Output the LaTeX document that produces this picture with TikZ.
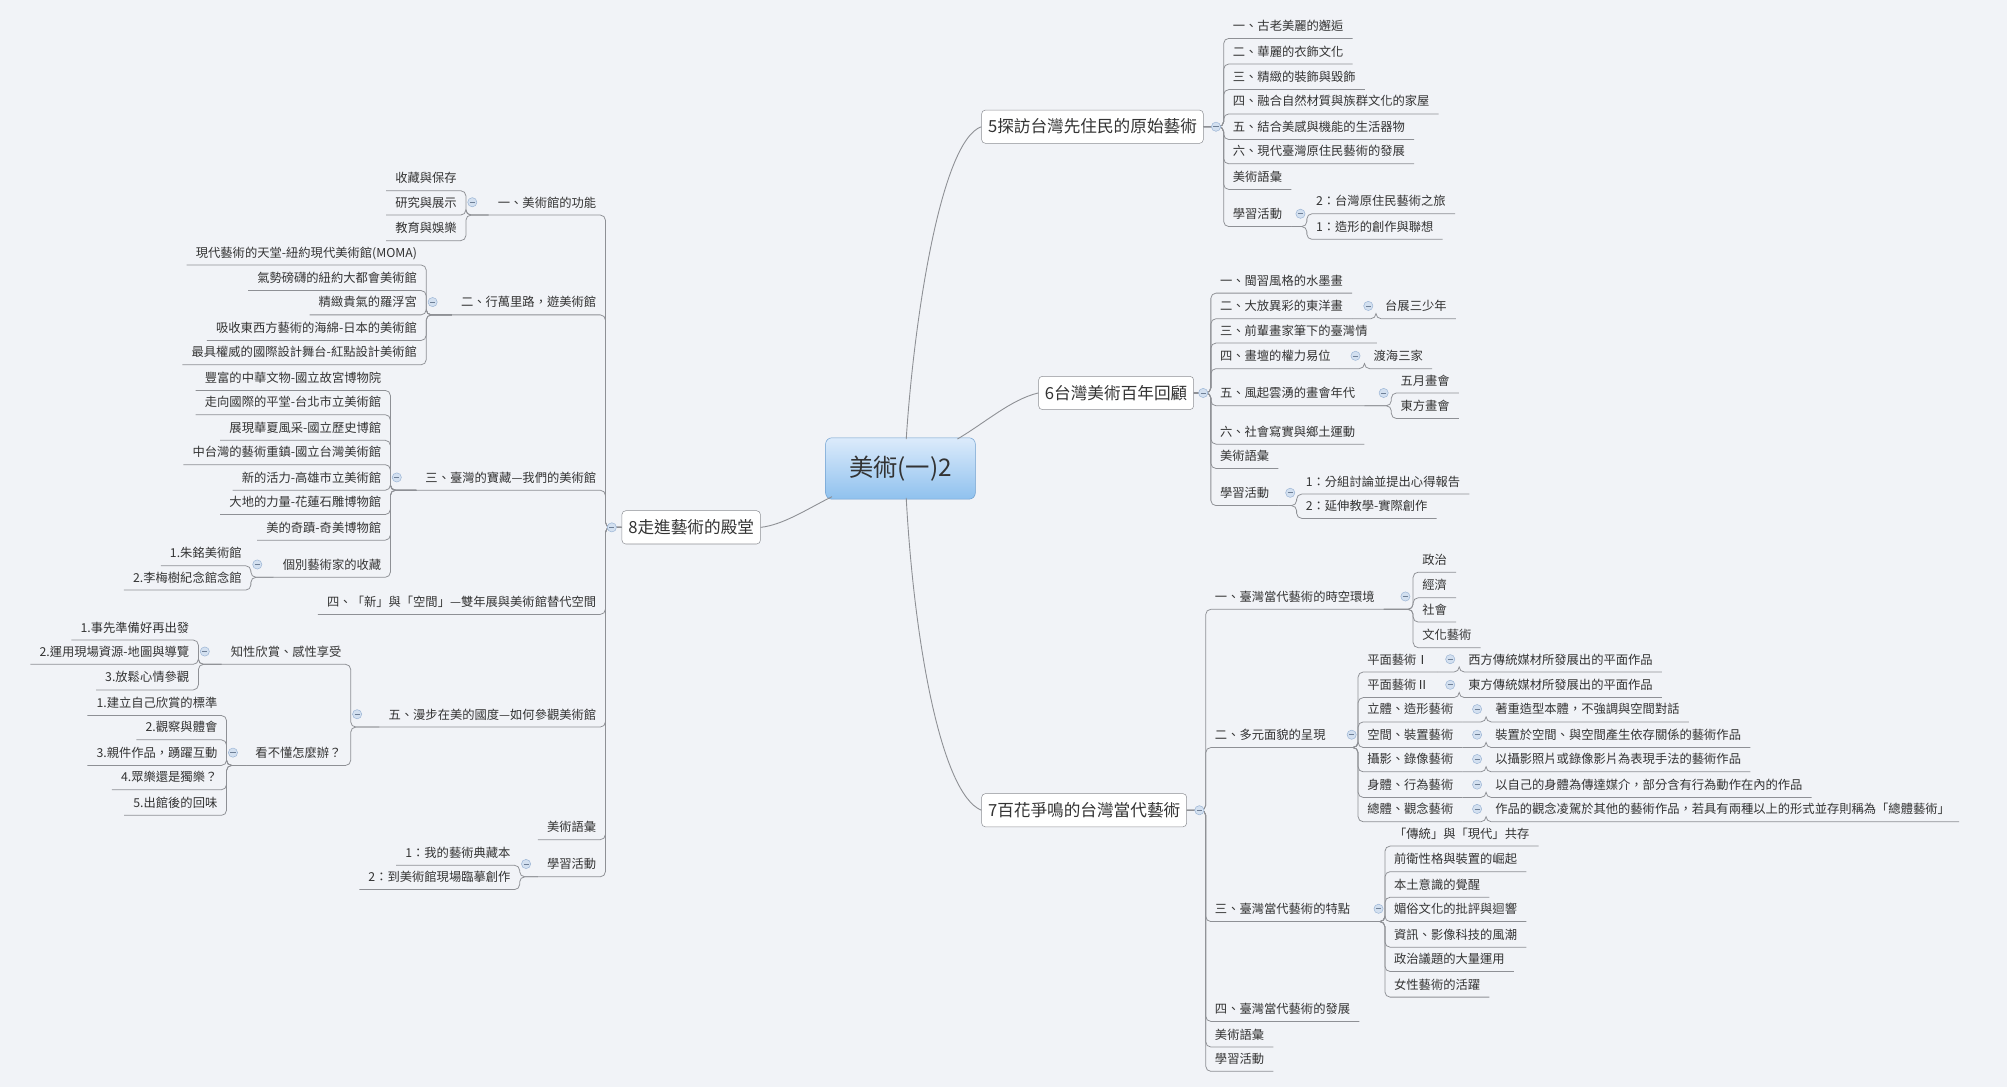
\documentclass[tikz,border=0pt]{standalone}
\usepackage{fontspec}
\setmainfont{Noto Sans CJK TC}
\definecolor{bg}{HTML}{F1F3F7}
\definecolor{ln}{HTML}{8E9095}
\definecolor{tx}{HTML}{333333}
\definecolor{ctop}{HTML}{DCEBFB}
\definecolor{cbot}{HTML}{8FC1EE}
\definecolor{cbd}{HTML}{6E9FCF}
\definecolor{icf}{HTML}{D3E0F0}
\definecolor{icd}{HTML}{9DB6D6}
\tikzset{
 leaf/.style={font=\fontsize{9.6}{10}\selectfont, text=tx, inner xsep=7pt, inner ysep=4pt, text height=8pt, text depth=2pt},
 conn/.style={draw=ln, line width=0.6pt, rounded corners=4pt},
 mainbox/.style={draw=ln, fill=white, rounded corners=3pt, font=\fontsize{13}{15}\selectfont, text=tx, inner xsep=5pt, minimum height=26pt},
 branch/.style={draw=ln, line width=0.7pt},
}
\newcommand\RR[4]{\node[leaf,anchor=south west] (#1) at (#2,#3+10) {#4};}
\newcommand\LL[4]{\node[leaf,anchor=south east] (#1) at (#2,#3+10) {#4};}
\newcommand\cR[2]{\draw[conn] (#1.south east) -- (#2.south west |- #1.south east) |- (#2.south east);}
\newcommand\cL[2]{\draw[conn] (#1.south west) -- (#2.south east |- #1.south west) |- (#2.south west);}
\newcommand\bR[2]{\draw[conn] (#1.east) -- (#2.south west |- #1.east) |- (#2.south east);}
\newcommand\bL[2]{\draw[conn] (#1.west) -- (#2.south east |- #1.west) |- (#2.south west);}
\newcommand\ic[2]{\draw[draw=icd, fill=icf, line width=0.4pt] (#1,#2) circle (3.6pt); \draw[draw=icd!70!black, line width=0.5pt] (#1-2,#2) -- (#1+2,#2);}
\begin{document}
\begin{tikzpicture}[x=1pt,y=-1pt]
\fill[bg] (0,0) rectangle (1568,849);
\useasboundingbox (0,0) rectangle (1568,849);
% center
\node[draw=cbd, rounded corners=5pt, top color=ctop, bottom color=cbot, minimum width=117pt, minimum height=48pt, font=\fontsize{19}{21}\selectfont, text=black!80] (c) at (703.5,366) {美術(一)2};
% main boxes
\node[mainbox] (b5) at (853.5,99) {5探訪台灣先住民的原始藝術};
\node[mainbox] (b6) at (872,307) {6台灣美術百年回顧};
\node[mainbox] (b7) at (847,633) {7百花爭鳴的台灣當代藝術};
\node[mainbox] (b8) at (540,412) {8走進藝術的殿堂};
\draw[branch] (708,343) .. controls (714,250) and (735,110) .. (b5.west);
\draw[branch] (748,343) .. controls (770,330) and (790,312) .. (b6.west);
\draw[branch] (708,389) .. controls (714,500) and (735,620) .. (b7.west);
\draw[branch] (650,388) .. controls (630,398) and (612,410) .. (b8.east);
% ===== branch 5
\RR{a1}{956}{20}{一、古老美麗的邂逅}
\RR{a2}{956}{40}{二、華麗的衣飾文化}
\RR{a3}{956}{60}{三、精緻的裝飾與毀飾}
\RR{a4}{956}{79}{四、融合自然材質與族群文化的家屋}
\RR{a5}{956}{99}{五、結合美感與機能的生活器物}
\RR{a6}{956}{118}{六、現代臺灣原住民藝術的發展}
\RR{a7}{956}{138}{美術語彙}
\RR{a8}{956}{167}{學習活動}
\RR{a81}{1021}{157}{2：台灣原住民藝術之旅}
\RR{a82}{1021}{177}{1：造形的創作與聯想}
\foreach \n in {a1,a2,a3,a4,a5,a6,a7,a8}{\bR{b5}{\n}}
\cR{a8}{a81}\cR{a8}{a82}
\ic{950}{99}\ic{1016}{167}
% ===== branch 6
\RR{d1}{946}{219}{一、閩習風格的水墨畫}
\RR{d2}{946}{239}{二、大放異彩的東洋畫}
\RR{d21}{1075}{239}{台展三少年}
\RR{d3}{946}{258}{三、前輩畫家筆下的臺灣情}
\RR{d4}{946}{278}{四、畫壇的權力易位}
\RR{d41}{1066}{278}{渡海三家}
\RR{d5}{946}{307}{五、風起雲湧的畫會年代}
\RR{d51}{1087}{297}{五月畫會}
\RR{d52}{1087}{317}{東方畫會}
\RR{d6}{946}{337}{六、社會寫實與鄉土運動}
\RR{d7}{946}{356}{美術語彙}
\RR{d8}{946}{385}{學習活動}
\RR{d81}{1013}{376}{1：分組討論並提出心得報告}
\RR{d82}{1013}{395}{2：延伸教學-實際創作}
\foreach \n in {d1,d2,d3,d4,d5,d6,d7,d8}{\bR{b6}{\n}}
\cR{d2}{d21}\cR{d4}{d41}\cR{d5}{d51}\cR{d5}{d52}\cR{d8}{d81}\cR{d8}{d82}
\ic{940}{307}\ic{1069}{239}\ic{1059}{278}\ic{1081}{307}\ic{1008}{385}
% ===== branch 7
\RR{e1}{942}{466}{一、臺灣當代藝術的時空環境}
\RR{e11}{1104}{437}{政治}
\RR{e12}{1104}{457}{經濟}
\RR{e13}{1104}{476}{社會}
\RR{e14}{1104}{496}{文化藝術}
\RR{e2}{942}{574}{二、多元面貌的呈現}
\RR{e21}{1061}{515}{平面藝術Ⅰ}
\RR{e22}{1061}{535}{平面藝術Ⅱ}
\RR{e23}{1061}{554}{立體、造形藝術}
\RR{e24}{1061}{574}{空間、裝置藝術}
\RR{e25}{1061}{593}{攝影、錄像藝術}
\RR{e26}{1061}{613}{身體、行為藝術}
\RR{e27}{1061}{632}{總體、觀念藝術}
\RR{f21}{1140}{515}{西方傳統媒材所發展出的平面作品}
\RR{f22}{1140}{535}{東方傳統媒材所發展出的平面作品}
\RR{f23}{1161}{554}{著重造型本體，不強調與空間對話}
\RR{f24}{1161}{574}{裝置於空間、與空間產生依存關係的藝術作品}
\RR{f25}{1161}{593}{以攝影照片或錄像影片為表現手法的藝術作品}
\RR{f26}{1161}{613}{以自己的身體為傳達媒介，部分含有行為動作在內的作品}
\RR{f27}{1161}{632}{作品的觀念凌駕於其他的藝術作品，若具有兩種以上的形式並存則稱為「總體藝術」}
\RR{e3}{942}{710}{三、臺灣當代藝術的特點}
\RR{e31}{1082}{651}{「傳統」與「現代」共存}
\RR{e32}{1082}{671}{前衛性格與裝置的崛起}
\RR{e33}{1082}{691}{本土意識的覺醒}
\RR{e34}{1082}{710}{媚俗文化的批評與迴響}
\RR{e35}{1082}{730}{資訊、影像科技的風潮}
\RR{e36}{1082}{749}{政治議題的大量運用}
\RR{e37}{1082}{769}{女性藝術的活躍}
\RR{e4}{942}{788}{四、臺灣當代藝術的發展}
\RR{e5}{942}{808}{美術語彙}
\RR{e6}{942}{827}{學習活動}
\foreach \n in {e1,e2,e3,e4,e5,e6}{\bR{b7}{\n}}
\foreach \n in {e11,e12,e13,e14}{\cR{e1}{\n}}
\foreach \n in {e21,e22,e23,e24,e25,e26,e27}{\cR{e2}{\n}}
\foreach \n in {e31,e32,e33,e34,e35,e36,e37}{\cR{e3}{\n}}
\cR{e21}{f21}\cR{e22}{f22}\cR{e23}{f23}\cR{e24}{f24}\cR{e25}{f25}\cR{e26}{f26}\cR{e27}{f27}
\ic{937}{633}\ic{1098}{466}\ic{1056}{574}\ic{1077}{710}
\ic{1133}{515}\ic{1133}{535}\ic{1154}{554}\ic{1154}{574}\ic{1154}{593}\ic{1154}{613}\ic{1154}{632}
% ===== branch 8
\LL{g1}{473}{158}{一、美術館的功能}
\LL{g11}{364}{139}{收藏與保存}
\LL{g12}{364}{158}{研究與展示}
\LL{g13}{364}{178}{教育與娛樂}
\LL{g2}{473}{236}{二、行萬里路，遊美術館}
\LL{g21}{333}{197}{現代藝術的天堂-紐約現代美術館(MOMA)}
\LL{g22}{333}{217}{氣勢磅礴的紐約大都會美術館}
\LL{g23}{333}{236}{精緻貴氣的羅浮宮}
\LL{g24}{333}{256}{吸收東西方藝術的海綿-日本的美術館}
\LL{g25}{333}{275}{最具權威的國際設計舞台-紅點設計美術館}
\LL{g3}{473}{373}{三、臺灣的寶藏—我們的美術館}
\LL{g31}{305}{295}{豐富的中華文物-國立故宮博物院}
\LL{g32}{305}{314}{走向國際的平堂-台北市立美術館}
\LL{g33}{305}{334}{展現華夏風采-國立歷史博館}
\LL{g34}{305}{353}{中台灣的藝術重鎮-國立台灣美術館}
\LL{g35}{305}{373}{新的活力-高雄市立美術館}
\LL{g36}{305}{392}{大地的力量-花蓮石雕博物館}
\LL{g37}{305}{412}{美的奇蹟-奇美博物館}
\LL{g38}{305}{441}{個別藝術家的收藏}
\LL{g381}{196}{432}{1.朱銘美術館}
\LL{g382}{196}{451}{2.李梅樹紀念館念館}
\LL{g4}{473}{470}{四、「新」與「空間」—雙年展與美術館替代空間}
\LL{g5}{473}{558}{五、漫步在美的國度—如何參觀美術館}
\LL{g51}{274}{509}{知性欣賞、感性享受}
\LL{g511}{155}{490}{1.事先準備好再出發}
\LL{g512}{155}{509}{2.運用現場資源-地圖與導覽}
\LL{g513}{155}{529}{3.放鬆心情參觀}
\LL{g52}{274}{588}{看不懂怎麼辦？}
\LL{g521}{177}{549}{1.建立自己欣賞的標準}
\LL{g522}{177}{568}{2.觀察與體會}
\LL{g523}{177}{588}{3.親件作品，踴躍互動}
\LL{g524}{177}{607}{4.眾樂還是獨樂？}
\LL{g525}{177}{627}{5.出館後的回味}
\LL{g6}{473}{646}{美術語彙}
\LL{g7}{473}{675}{學習活動}
\LL{g71}{406}{666}{1：我的藝術典藏本}
\LL{g72}{406}{685}{2：到美術館現場臨摹創作}
\foreach \n in {g1,g2,g3,g4,g5,g6,g7}{\bL{b8}{\n}}
\foreach \n in {g11,g12,g13}{\cL{g1}{\n}}
\foreach \n in {g21,g22,g23,g24,g25}{\cL{g2}{\n}}
\foreach \n in {g31,g32,g33,g34,g35,g36,g37,g38}{\cL{g3}{\n}}
\cL{g38}{g381}\cL{g38}{g382}
\cL{g5}{g51}\cL{g5}{g52}
\foreach \n in {g511,g512,g513}{\cL{g51}{\n}}
\foreach \n in {g521,g522,g523,g524,g525}{\cL{g52}{\n}}
\cL{g7}{g71}\cL{g7}{g72}
\ic{478}{412}\ic{369}{158}\ic{338}{236}\ic{310}{373}\ic{201}{441}\ic{279}{558}\ic{160}{509}\ic{182}{588}\ic{411}{675}
\end{tikzpicture}
\end{document}
